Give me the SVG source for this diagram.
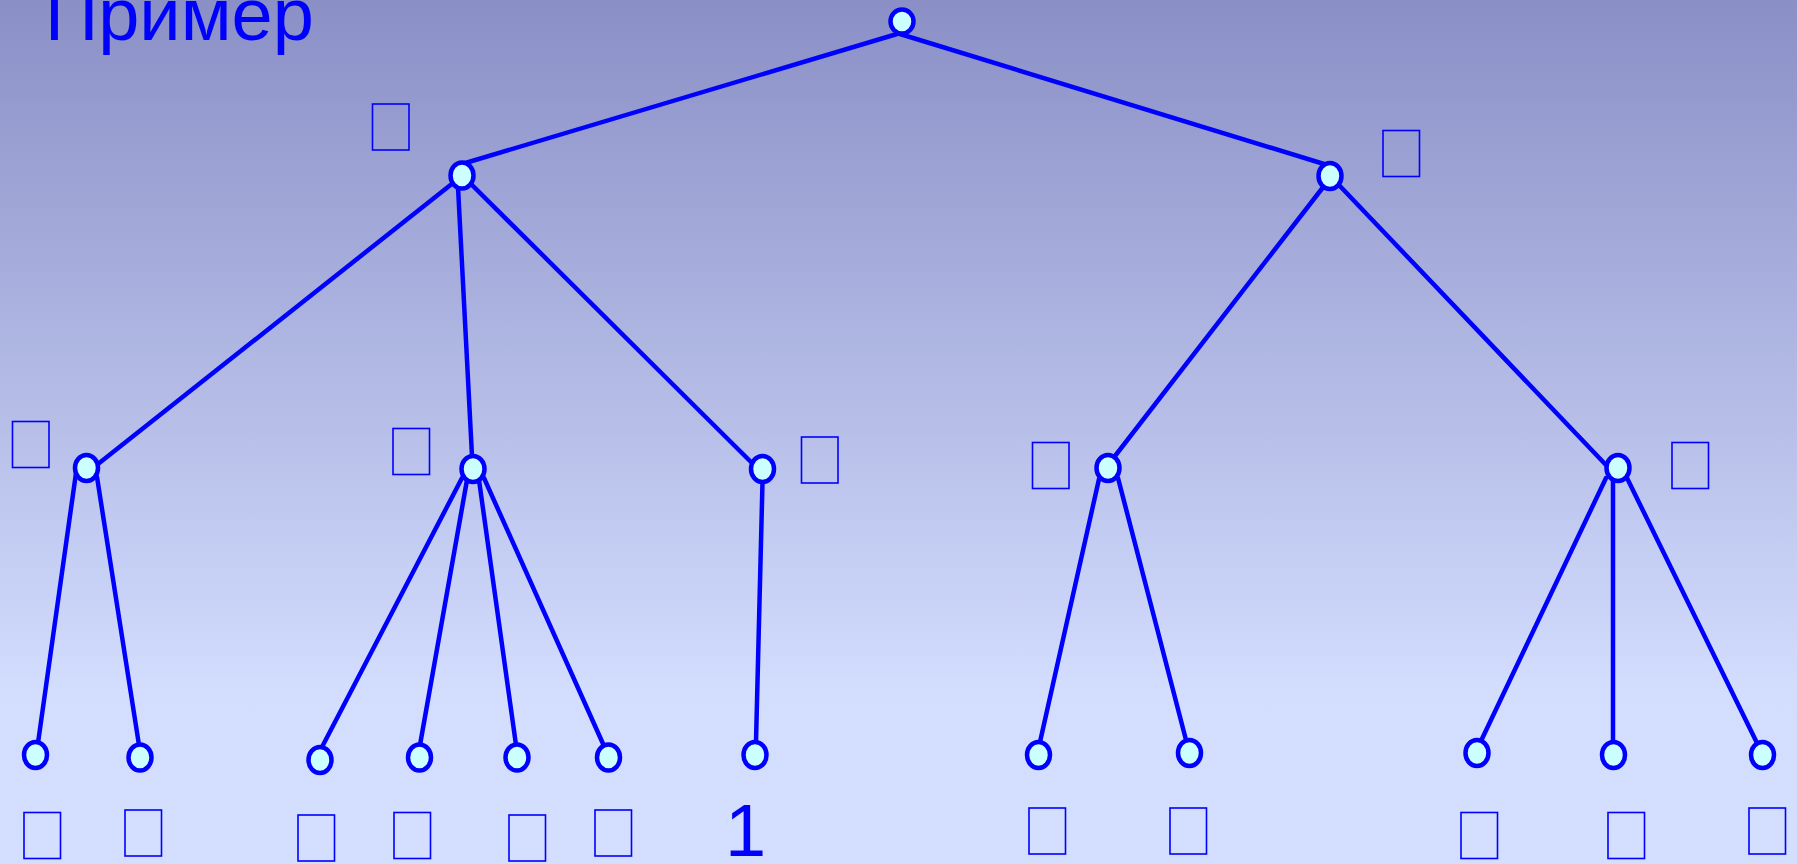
<svg xmlns="http://www.w3.org/2000/svg" width="1797" height="864" viewBox="0 0 1797 864">
<defs>
<linearGradient id="bg" x1="0" y1="0" x2="0" y2="864" gradientUnits="userSpaceOnUse">
<stop offset="0" stop-color="#8a8fc6"/>
<stop offset="0.8" stop-color="#d3ddfe"/>
<stop offset="1" stop-color="#d4deff"/>
</linearGradient>
<style>
.n{fill:#ccffff;stroke:#0000ff;stroke-width:4.5}
.e{stroke:#0000ff;stroke-width:4.5;stroke-linecap:round;fill:none}
.b{fill:none;stroke:#0000ff;stroke-width:1.6}
.t{font-family:"Liberation Sans",Arial,sans-serif;fill:#0000ff}
</style>
</defs>
<rect x="0" y="0" width="1797" height="864" fill="url(#bg)"/>
<text class="t" x="45" y="39.5" font-size="74">Пример</text>
<g id="connectors">
<line class="e" x1="897" y1="34" x2="462" y2="164"/>
<line class="e" x1="900" y1="34" x2="1324" y2="164"/>
<line class="e" x1="453" y1="183" x2="98" y2="464"/>
<line class="e" x1="458" y1="187" x2="472" y2="456"/>
<line class="e" x1="470" y1="183" x2="751" y2="462"/>
<line class="e" x1="1324" y1="186" x2="1115" y2="456"/>
<line class="e" x1="1338" y1="184" x2="1606" y2="465"/>
<line class="e" x1="76" y1="473" x2="38" y2="743"/>
<line class="e" x1="97" y1="477" x2="139" y2="745"/>
<line class="e" x1="462" y1="478" x2="322" y2="747"/>
<line class="e" x1="467" y1="480" x2="420" y2="745"/>
<line class="e" x1="479" y1="480" x2="516" y2="745"/>
<line class="e" x1="484" y1="478" x2="604" y2="746"/>
<line class="e" x1="762.5" y1="482" x2="756" y2="742"/>
<line class="e" x1="1099" y1="479" x2="1040" y2="742"/>
<line class="e" x1="1118" y1="478" x2="1186" y2="740"/>
<line class="e" x1="1606" y1="478" x2="1481" y2="741"/>
<line class="e" x1="1613" y1="481" x2="1613" y2="742"/>
<line class="e" x1="1627" y1="478" x2="1757" y2="743"/>
</g>
<g id="root"><ellipse class="n" cx="902" cy="21.5" rx="11.5" ry="12"/></g>
<g id="n1"><ellipse class="n" cx="462" cy="175.5" rx="11.5" ry="13"/><rect class="b" x="372.5" y="104" width="36.5" height="46"/></g>
<g id="n2"><ellipse class="n" cx="1330" cy="176" rx="11.5" ry="13"/><rect class="b" x="1383" y="130.5" width="36.5" height="46"/></g>
<g id="n11"><ellipse class="n" cx="86.5" cy="468" rx="11.5" ry="13"/><rect class="b" x="12.5" y="421.5" width="36.5" height="46"/></g>
<g id="n12"><ellipse class="n" cx="473" cy="469" rx="11.5" ry="13"/><rect class="b" x="393" y="428.5" width="36.5" height="46"/></g>
<g id="n13"><ellipse class="n" cx="762.5" cy="469" rx="11.5" ry="13"/><rect class="b" x="801.5" y="437" width="36.5" height="46"/></g>
<g id="n21"><ellipse class="n" cx="1108" cy="468" rx="11.5" ry="13"/><rect class="b" x="1032.5" y="442.5" width="36.5" height="46"/></g>
<g id="n22"><ellipse class="n" cx="1618" cy="468" rx="11.5" ry="13"/><rect class="b" x="1672" y="442.5" width="36.5" height="46"/></g>
<g id="l1"><ellipse class="n" cx="35.5" cy="755" rx="11.5" ry="13"/><rect class="b" x="24" y="812.5" width="36.5" height="46"/></g>
<g id="l2"><ellipse class="n" cx="140" cy="757.5" rx="11.5" ry="13"/><rect class="b" x="125" y="810" width="36.5" height="46"/></g>
<g id="l3"><ellipse class="n" cx="320" cy="760" rx="11.5" ry="13"/><rect class="b" x="298" y="815" width="36.5" height="46"/></g>
<g id="l4"><ellipse class="n" cx="419.5" cy="757.5" rx="11.5" ry="13"/><rect class="b" x="394" y="812.5" width="36.5" height="46"/></g>
<g id="l5"><ellipse class="n" cx="517" cy="757.5" rx="11.5" ry="13"/><rect class="b" x="509" y="815" width="36.5" height="46"/></g>
<g id="l6"><ellipse class="n" cx="608.5" cy="757.5" rx="11.5" ry="13"/><rect class="b" x="595" y="810" width="36.5" height="46"/></g>
<g id="l7"><ellipse class="n" cx="755" cy="755" rx="11.5" ry="13"/><text class="t" x="725" y="856" font-size="74">1</text></g>
<g id="l8"><ellipse class="n" cx="1038.5" cy="755" rx="11.5" ry="13"/><rect class="b" x="1029" y="808" width="36.5" height="46"/></g>
<g id="l9"><ellipse class="n" cx="1189.5" cy="753" rx="11.5" ry="13"/><rect class="b" x="1170" y="808" width="36.5" height="46"/></g>
<g id="l10"><ellipse class="n" cx="1477" cy="753" rx="11.5" ry="13"/><rect class="b" x="1461" y="812.5" width="36.5" height="46"/></g>
<g id="l11"><ellipse class="n" cx="1613.5" cy="755" rx="11.5" ry="13"/><rect class="b" x="1608" y="812.5" width="36.5" height="46"/></g>
<g id="l12"><ellipse class="n" cx="1762.5" cy="755" rx="11.5" ry="13"/><rect class="b" x="1749" y="808" width="36.5" height="46"/></g>
</svg>
